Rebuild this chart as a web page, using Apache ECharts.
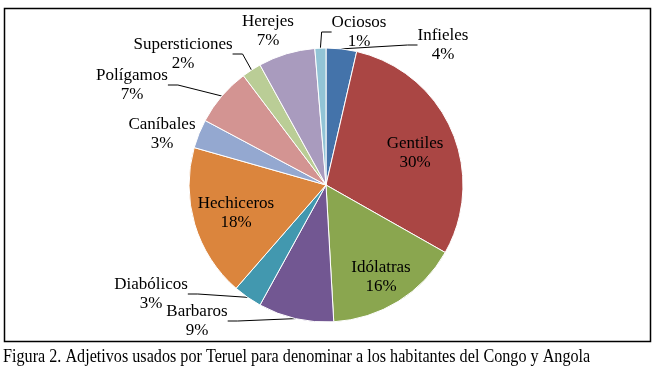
<!DOCTYPE html>
<html>
<head>
<meta charset="utf-8">
<script src="https://cdn.jsdelivr.net/npm/echarts@6/dist/echarts.min.js"></script>
<style>
  html, body { margin: 0; padding: 0; background: #fff; }
  #chart { width: 660px; height: 371px; }
</style>
</head>
<body>
<div id="chart"></div>
<script>
// categories and shares (%), clockwise from 12 o'clock
var categories = ['Infieles', 'Gentiles', 'Idólatras', 'Barbaros', 'Diabólicos', 'Hechiceros',
                  'Caníbales', 'Polígamos', 'Supersticiones', 'Herejes', 'Ociosos'];
var shares = [3.6, 29.6, 15.9, 8.9, 3.4, 18.0, 3.4, 6.9, 2.3, 6.7, 1.3];
var colors = ['#4473aa', '#aa4644', '#8aa64f', '#725792', '#4298af', '#db853d',
              '#94a8d0', '#d39492', '#bacd96', '#a99bbe', '#92c4d6'];
var caption = 'Figura 2. Adjetivos usados por Teruel para denominar a los habitantes del Congo y Angola';

// where each label block sits (centre), like the original layout
var labelPos = {
    'Infieles': [443, 45], 'Gentiles': [415, 153], 'Idólatras': [381, 277],
    'Barbaros': [197, 321], 'Diabólicos': [151, 294], 'Hechiceros': [236, 213],
    'Caníbales': [162, 134], 'Polígamos': [132, 85], 'Supersticiones': [183, 54],
    'Herejes': [268, 31], 'Ociosos': [359, 32]
};
var noLine = ['Gentiles', 'Idólatras', 'Hechiceros', 'Herejes', 'Caníbales'];

var font = 'Liberation Serif, Times New Roman, serif';

var chart = echarts.init(document.getElementById('chart'));

var pieData = categories.map(function (name, i) {
    return {
        name: name,
        value: shares[i],
        itemStyle: { color: colors[i] },
        labelLine: { show: noLine.indexOf(name) < 0 }
    };
});

var option = {
    animation: false,
    graphic: [
        {
            type: 'rect',
            shape: { x: 4.5, y: 8.5, width: 646, height: 333 },
            style: { fill: 'none', stroke: '#000', lineWidth: 1.5 }
        },
        {
            type: 'text',
            x: 3,
            y: 348,
            scaleX: 1.01,
            scaleY: 1.15,
            style: { text: caption, font: '16px ' + font, fill: '#000' }
        }
    ],
    series: [{
        type: 'pie',
        center: [326, 185],
        radius: 137,
        startAngle: 90,
        clockwise: true,
        data: pieData,
        itemStyle: { borderColor: '#fff', borderWidth: 1 },
        label: {
            show: true,
            formatter: function (p) {
                return p.name + '\n' + Math.round(p.percent) + '%';
            },
            fontFamily: font,
            fontSize: 17,
            lineHeight: 19,
            color: '#000'
        },
        labelLine: {
            show: true,
            length: 10,
            length2: 10,
            lineStyle: { color: '#000', width: 1 }
        },
        labelLayout: function (params) {
            var p = labelPos[categories[params.dataIndex]];
            return { x: p[0], y: p[1], align: 'center', verticalAlign: 'middle' };
        }
    }]
};

chart.setOption(option);
window.addEventListener('resize', function () {
    chart.resize();
});
</script>
</body>
</html>
